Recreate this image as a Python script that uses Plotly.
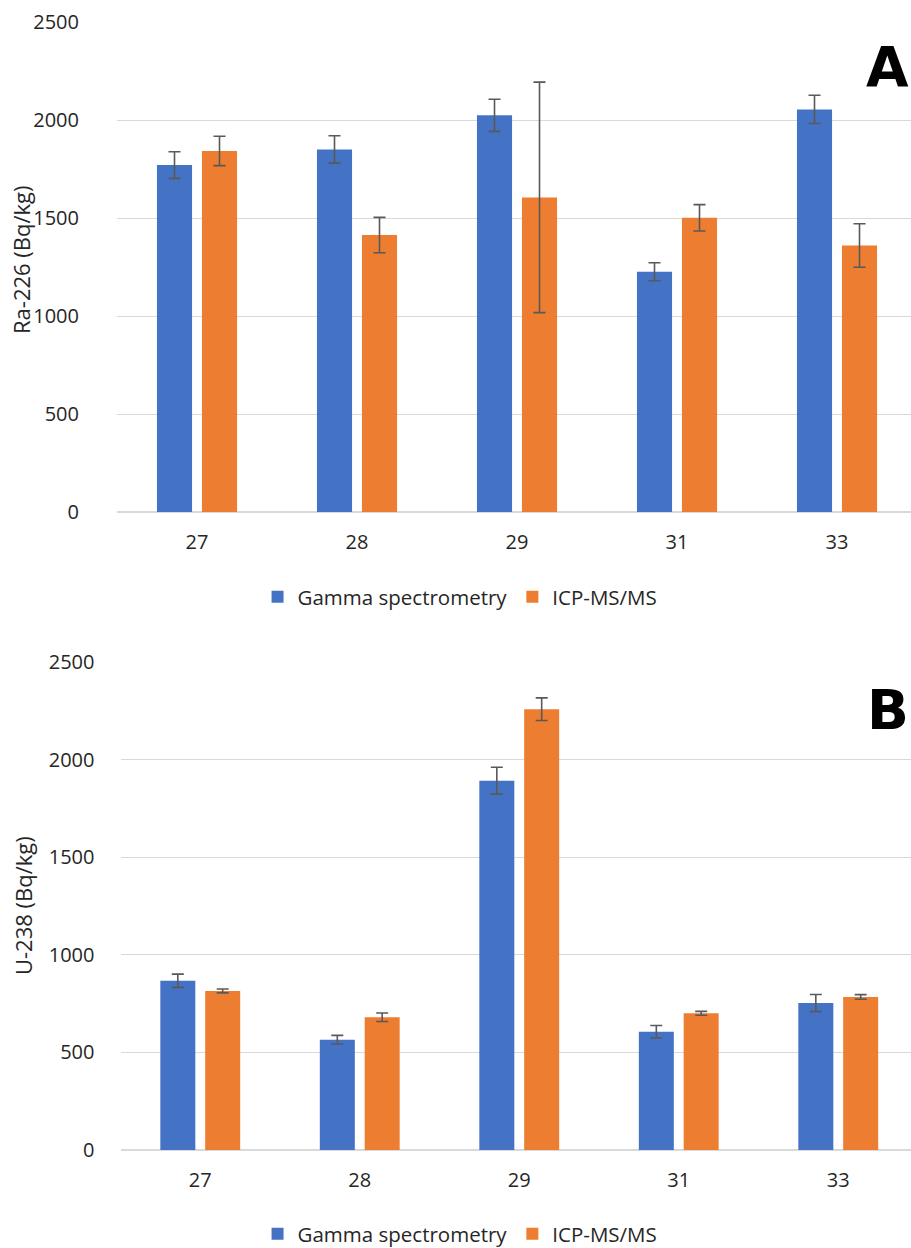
import plotly.graph_objects as go

W, H = 911, 1248

samples = ["27", "28", "29", "31", "33"]

# Panel A: Ra-226
ra_gamma = [1770, 1850, 2024, 1226, 2054]
ra_gamma_err = [68, 70, 82, 46, 72]
ra_icp = [1842, 1413, 1605, 1501, 1360]
ra_icp_err = [75, 90, 588, 67, 111]

# Panel B: U-238
u_gamma = [867, 565, 1892, 606, 753]
u_gamma_err = [34, 22, 69, 32, 44]
u_icp = [815, 680, 2258, 700, 784]
u_icp_err = [10, 22, 58, 10, 12]

yticks = [0, 500, 1000, 1500, 2000, 2500]

BLUE = "#4472C4"
ORANGE = "#ED7D31"
ERR = "#595959"
GRID = "#d9d9d9"
FONT = "Open Sans"
TXT = "#262626"


def err(arr):
    return dict(type="data", array=arr, color=ERR, thickness=1.6, width=6)


fig = go.Figure()

fig.add_trace(go.Bar(x=samples, y=ra_gamma, name="Gamma spectrometry",
                     marker_color=BLUE, error_y=err(ra_gamma_err),
                     xaxis="x", yaxis="y", legend="legend"))
fig.add_trace(go.Bar(x=samples, y=ra_icp, name="ICP-MS/MS",
                     marker_color=ORANGE, error_y=err(ra_icp_err),
                     xaxis="x", yaxis="y", legend="legend"))
fig.add_trace(go.Bar(x=samples, y=u_gamma, name="Gamma spectrometry",
                     marker_color=BLUE, error_y=err(u_gamma_err),
                     xaxis="x2", yaxis="y2", legend="legend2"))
fig.add_trace(go.Bar(x=samples, y=u_icp, name="ICP-MS/MS",
                     marker_color=ORANGE, error_y=err(u_icp_err),
                     xaxis="x2", yaxis="y2", legend="legend2"))


def px_x(p):
    return p / W


def px_y(p):
    return 1 - p / H


# plot areas (pixels)
a_left, a_top, a_bottom, a_step = 117, 22, 512, 160
b_left, b_top, b_bottom, b_step = 120.5, 662, 1150, 159.5

xcommon = dict(type="category", showgrid=False, showline=False, zeroline=False,
               automargin=False,
               ticks="outside", ticklen=12, tickcolor="rgba(0,0,0,0)",
               tickfont=dict(family=FONT, size=20, color=TXT),
               fixedrange=True)
ycommon = dict(range=[0, 2500], tickvals=yticks, showgrid=True, gridcolor=GRID,
               gridwidth=1, zeroline=True, zerolinecolor=GRID, zerolinewidth=2,
               automargin=False,
               showline=False, ticks="outside", tickcolor="rgba(0,0,0,0)",
               tickfont=dict(family=FONT, size=20, color=TXT))

fig.update_layout(
    template="none",
    width=W, height=H,
    margin=dict(l=0, r=0, t=0, b=0, autoexpand=False),
    paper_bgcolor="white", plot_bgcolor="white",
    barmode="group", bargap=0.4375, bargroupgap=0.22,
    xaxis=dict(xcommon, domain=[px_x(a_left), 1], anchor="y",
               range=[-0.5, (W - a_left) / a_step - 0.5]),
    yaxis=dict(ycommon, domain=[px_y(a_bottom), px_y(a_top)], anchor="x",
               ticklen=33),
    xaxis2=dict(xcommon, domain=[px_x(b_left), 1], anchor="y2",
                range=[-0.5, (W - b_left) / b_step - 0.5]),
    yaxis2=dict(ycommon, domain=[px_y(b_bottom), px_y(b_top)], anchor="x2",
                ticklen=21),
    legend=dict(orientation="h", x=0.505, xanchor="center", y=px_y(597),
                yanchor="middle", font=dict(family=FONT, size=20.5, color=TXT),
                bgcolor="rgba(0,0,0,0)"),
    legend2=dict(orientation="h", x=0.505, xanchor="center", y=px_y(1234),
                 yanchor="middle", font=dict(family=FONT, size=20.5, color=TXT),
                 bgcolor="rgba(0,0,0,0)"),
    showlegend=True,
)

annotations = [
    dict(text="Ra-226 (Bq/kg)", x=px_x(21), y=px_y(260), textangle=-90,
         font=dict(family=FONT, size=22, color=TXT)),
    dict(text="U-238 (Bq/kg)", x=px_x(23), y=px_y(906), textangle=-90,
         font=dict(family=FONT, size=22, color=TXT)),
    # panel letters, right-aligned at the figure edge
    dict(text="<b>A</b>", x=1, y=px_y(67), xanchor="right",
         font=dict(family="DejaVu Sans", size=55, color="black")),
    dict(text="<b>B</b>", x=1, y=px_y(710), xanchor="right",
         font=dict(family="DejaVu Sans", size=55, color="black")),
]
for a in annotations:
    a.update(xref="paper", yref="paper", showarrow=False, yanchor="middle")
    a.setdefault("xanchor", "center")
fig.update_layout(annotations=annotations)

fig.write_html("out.html")
